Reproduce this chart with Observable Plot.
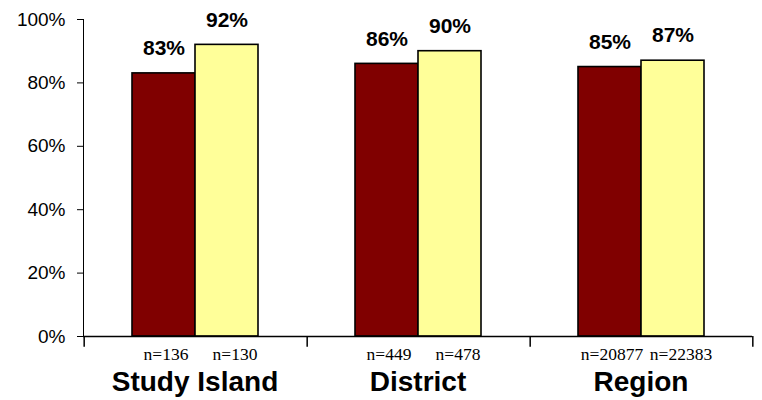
<!DOCTYPE html>
<html>
<head>
<meta charset="utf-8">
<script src="https://cdn.jsdelivr.net/npm/d3@7"></script>
<script src="https://cdn.jsdelivr.net/npm/@observablehq/plot@0.6"></script>
<style>
  html, body { margin: 0; padding: 0; background: #fff; }
  #chart svg { display: block; }
  #chart g[aria-label^="fx-axis"] text { font: bold 28px "Liberation Sans", Arial, sans-serif; fill: #000; }
  #chart g[aria-label^="y-axis"] text { font: 19px "Liberation Sans", Arial, sans-serif; fill: #000; }
</style>
</head>
<body>
<div id="chart"></div>
<script>
// Data
const categories = ["Study Island", "District", "Region"];
const series = ["A", "B"];
const valuesA = [83, 86, 85];
const valuesB = [92, 90, 87];
const countsA = ["n=136", "n=449", "n=20877"];
const countsB = ["n=130", "n=478", "n=22383"];
const yTicks = [0, 20, 40, 60, 80, 100];
const colors = ["#800000", "#FFFF99"];

const rows = [];
categories.forEach((c, i) => {
  rows.push({cat: c, s: "A", v: valuesA[i], n: countsA[i]});
  rows.push({cat: c, s: "B", v: valuesB[i], n: countsB[i]});
});
const rowsA = rows.filter(d => d.s === "A");
const rowsB = rows.filter(d => d.s === "B");

// layout
const W = 762, H = 400, ML = 83, MR = 10, MT = 19, MB = 64;
const padOuter = 0.76;
const facetW = (W - ML - MR) / categories.length;
const step = facetW / (series.length + 2 * padOuter);
const edgeOffset = padOuter * step + step / 2;

const nStyle = {fx: "cat", x: "s", y: () => 0, text: "n", dy: 18, fontSize: 17.5, fontFamily: "Liberation Serif, Times New Roman, serif", fill: "#000"};

const chart = Plot.plot({
  width: W,
  height: H,
  marginLeft: ML,
  marginRight: MR,
  marginTop: MT,
  marginBottom: MB,
  facet: {marginTop: 0, marginBottom: 0, marginLeft: 0, marginRight: 0},
  fx: {domain: categories, padding: 0, label: null, tickSize: 0, tickPadding: 35, axis: "bottom"},
  x: {domain: series, paddingInner: 0, paddingOuter: padOuter, axis: null},
  y: {domain: [0, 100], ticks: yTicks, tickFormat: d => d + "%", tickSize: 6, tickPadding: 12, label: null, line: true},
  color: {domain: series, range: colors},
  marks: [
    Plot.barY(rows, {fx: "cat", x: "s", y: "v", fill: "s", stroke: "#000", strokeWidth: 1.6}),
    Plot.ruleY([0], {stroke: "#000", strokeWidth: 1.5}),
    Plot.ruleX(categories, {fx: d => d, x: () => "A", y1: 0, y2: -3.4, dx: -edgeOffset, stroke: "#000", strokeWidth: 1.5}),
    Plot.ruleX(categories.slice(-1), {fx: d => d, x: () => "B", y1: 0, y2: -3.4, dx: edgeOffset, stroke: "#000", strokeWidth: 1.5}),
    Plot.text(rows, {fx: "cat", x: "s", y: "v", text: d => d.v + "%", dy: -25, fontSize: 21, fontWeight: "bold", fontFamily: "Liberation Sans, Arial, sans-serif", fill: "#000"}),
    Plot.text(rowsA, {...nStyle, dx: 2}),
    Plot.text(rowsB, {...nStyle, dx: 8})
  ]
});
document.getElementById("chart").appendChild(chart);
</script>
</body>
</html>
